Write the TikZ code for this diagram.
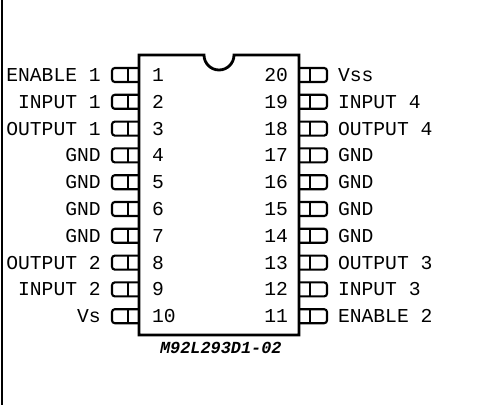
\documentclass[tikz,border=0pt]{standalone}
\usepackage{fontspec}
\setmonofont{Liberation Mono}
\usepackage{xcolor}
\usepackage{tikz}
\usetikzlibrary{positioning}

\begin{document}
\begin{tikzpicture}[
    node distance=0.32cm and 0.28cm,
    leftpin/.style={rectangle, draw=black, line width=1.5pt, fill=white, rounded corners=2pt, outer sep=0pt, inner sep=0pt, minimum width=0.725cm, minimum height=0.35cm,
        path picture={\draw[line width=1.5pt] ([xshift=0.4cm]path picture bounding box.north west) -- ([xshift=0.4cm]path picture bounding box.south west);}},
    rightpin/.style={rectangle, draw=black, line width=1.5pt, fill=white, rounded corners=2pt, outer sep=0pt, inner sep=0pt, minimum width=0.75cm, minimum height=0.35cm,
        path picture={\draw[line width=1.5pt] ([xshift=-0.425cm]path picture bounding box.north east) -- ([xshift=-0.425cm]path picture bounding box.south east);}},
    pintext/.style={inner sep=0pt, outer sep=0pt, font=\ttfamily\fontsize{14}{16}\selectfont, text height=0.325cm, text depth=0pt},
    partno/.style={inner sep=0pt, outer sep=0pt, font=\ttfamily\bfseries\itshape\fontsize{12}{13}\selectfont}
]

\useasboundingbox (0,0) rectangle (11.975,10.125);

% Frame edge
\coordinate (edge_top) at (0.04,10.125);
\coordinate (edge_bot) at (0.04,0);
\draw[line width=1.5pt] (edge_top) -- (edge_bot);

% Left pins
\node[leftpin] (lp1) at (3.1625,8.25) {};
\node[leftpin, below=of lp1] (lp2) {};
\node[leftpin, below=of lp2] (lp3) {};
\node[leftpin, below=of lp3] (lp4) {};
\node[leftpin, below=of lp4] (lp5) {};
\node[leftpin, below=of lp5] (lp6) {};
\node[leftpin, below=of lp6] (lp7) {};
\node[leftpin, below=of lp7] (lp8) {};
\node[leftpin, below=of lp8] (lp9) {};
\node[leftpin, below=of lp9] (lp10) {};

% Right pins
\node[rightpin] (rp20) at (7.8,8.25) {};
\node[rightpin, below=of rp20] (rp19) {};
\node[rightpin, below=of rp19] (rp18) {};
\node[rightpin, below=of rp18] (rp17) {};
\node[rightpin, below=of rp17] (rp16) {};
\node[rightpin, below=of rp16] (rp15) {};
\node[rightpin, below=of rp15] (rp14) {};
\node[rightpin, below=of rp14] (rp13) {};
\node[rightpin, below=of rp13] (rp12) {};
\node[rightpin, below=of rp12] (rp11) {};

% Package outline
\draw[line width=2pt, fill=white] (3.475,8.75) -- (5.1,8.75) arc[start angle=180, end angle=360, radius=0.375cm] -- (7.475,8.75) -- (7.475,1.75) -- (3.475,1.75) -- cycle;

% Signal names, left
\node[pintext, left=of lp1] (name1) {ENABLE 1};
\node[pintext, left=of lp2] (name2) {INPUT 1};
\node[pintext, left=of lp3] (name3) {OUTPUT 1};
\node[pintext, left=of lp4] (name4) {GND};
\node[pintext, left=of lp5] (name5) {GND};
\node[pintext, left=of lp6] (name6) {GND};
\node[pintext, left=of lp7] (name7) {GND};
\node[pintext, left=of lp8] (name8) {OUTPUT 2};
\node[pintext, left=of lp9] (name9) {INPUT 2};
\node[pintext, left=of lp10] (name10) {Vs};

% Signal names, right
\node[pintext, right=0.275cm of rp20] (name20) {Vss};
\node[pintext, right=0.275cm of rp19] (name19) {INPUT 4};
\node[pintext, right=0.275cm of rp18] (name18) {OUTPUT 4};
\node[pintext, right=0.275cm of rp17] (name17) {GND};
\node[pintext, right=0.275cm of rp16] (name16) {GND};
\node[pintext, right=0.275cm of rp15] (name15) {GND};
\node[pintext, right=0.275cm of rp14] (name14) {GND};
\node[pintext, right=0.275cm of rp13] (name13) {OUTPUT 3};
\node[pintext, right=0.275cm of rp12] (name12) {INPUT 3};
\node[pintext, right=0.275cm of rp11] (name11) {ENABLE 2};

% Pin numbers
\node[pintext, right=0.275cm of lp1] (num1) {1};
\node[pintext, right=0.275cm of lp2] (num2) {2};
\node[pintext, right=0.275cm of lp3] (num3) {3};
\node[pintext, right=0.275cm of lp4] (num4) {4};
\node[pintext, right=0.275cm of lp5] (num5) {5};
\node[pintext, right=0.275cm of lp6] (num6) {6};
\node[pintext, right=0.275cm of lp7] (num7) {7};
\node[pintext, right=0.275cm of lp8] (num8) {8};
\node[pintext, right=0.275cm of lp9] (num9) {9};
\node[pintext, right=0.275cm of lp10] (num10) {10};
\node[pintext, left=0.225cm of rp20] (num20) {20};
\node[pintext, left=0.225cm of rp19] (num19) {19};
\node[pintext, left=0.225cm of rp18] (num18) {18};
\node[pintext, left=0.225cm of rp17] (num17) {17};
\node[pintext, left=0.225cm of rp16] (num16) {16};
\node[pintext, left=0.225cm of rp15] (num15) {15};
\node[pintext, left=0.225cm of rp14] (num14) {14};
\node[pintext, left=0.225cm of rp13] (num13) {13};
\node[pintext, left=0.225cm of rp12] (num12) {12};
\node[pintext, left=0.225cm of rp11] (num11) {11};

% Part number
\node[partno] (part) at (5.52,1.425) {M92L293D1-02};

\end{tikzpicture}
\end{document}
